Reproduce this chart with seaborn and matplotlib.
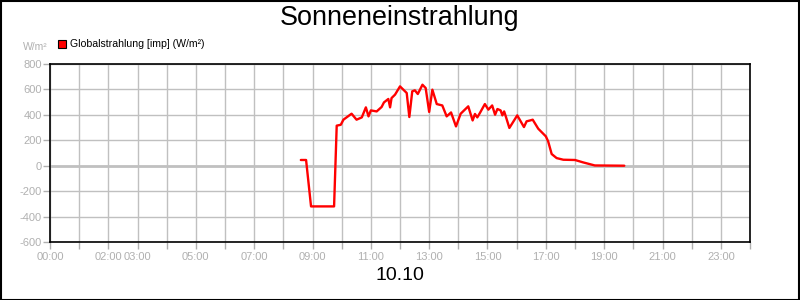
import matplotlib
matplotlib.use("Agg")
import matplotlib.pyplot as plt
import seaborn as sns
import pandas as pd
from matplotlib.patches import Rectangle

# time in hours of the day
hours = [8.60, 8.78, 8.95, 9.74, 9.83, 9.97, 10.06, 10.34, 10.51, 10.69, 10.83, 10.92,
         11.00, 11.20, 11.37, 11.45, 11.60, 11.66, 11.71, 11.83, 12.00, 12.23, 12.32,
         12.42, 12.51, 12.61, 12.77, 12.88, 13.00, 13.11, 13.26, 13.45, 13.60, 13.75,
         13.92, 14.08, 14.34, 14.49, 14.57, 14.65, 14.74, 14.91, 15.03, 15.16, 15.26,
         15.34, 15.45, 15.51, 15.57, 15.62, 15.75, 16.02, 16.25, 16.34, 16.46, 16.55,
         16.74, 17.00, 17.08, 17.20, 17.37, 17.60, 18.00, 18.28, 18.68, 19.69]
globalstrahlung = [45, 45, -320, -320, 315, 322, 362, 409, 362, 380, 459, 388,
                   435, 427, 462, 498, 525, 459, 532, 559, 624, 572, 383,
                   585, 593, 564, 637, 611, 423, 598, 485, 474, 388, 419,
                   309, 409, 467, 356, 407, 380, 415, 485, 441, 474, 401,
                   446, 435, 396, 427, 393, 297, 396, 304, 349, 356, 362,
                   291, 231, 191, 92, 60, 47, 45, 26, 2, 0]

x_tick_hours = list(range(0, 25))
x_label_hours = [0, 2, 3, 5, 7, 9, 11, 13, 15, 17, 19, 21, 23]
y_ticks = [-600, -400, -200, 0, 200, 400, 600, 800]

title = "Sonneneinstrahlung"
date_label = "10.10"
series_name = "Globalstrahlung [imp] (W/m²)"
unit = "W/m²"

sns.set_theme(style="white")
plt.rcParams['font.family'] = ['Liberation Sans', 'DejaVu Sans']

df = pd.DataFrame({"t": hours, "v": globalstrahlung})

fig = plt.figure(figsize=(8, 3), dpi=100)
ax = fig.add_axes([50/800, 1-242/300, 700/800, 178/300])

grid_c = "#c0c0c0"
for h in x_tick_hours:
    ax.axvline(h, color=grid_c, lw=1, zorder=0)
for yv in y_ticks:
    ax.axhline(yv, color=grid_c, lw=1 if yv != 0 else 2, zorder=0)

sns.lineplot(data=df, x="t", y="v", ax=ax, color="#ff0000", lw=1.7, zorder=3)

ax.set_xlim(0, 24)
ax.set_ylim(-600, 800)
ax.set_xticks(x_tick_hours)
ax.set_xticklabels([f"{h:02d}:00" if h in x_label_hours else "" for h in x_tick_hours])
ax.set_yticks(y_ticks)
ax.set_yticklabels([str(v) for v in y_ticks])
ax.tick_params(axis='both', colors="#b0b0b0", labelsize=8, length=5, width=1,
               direction='out', pad=1, bottom=True, left=True)
ax.tick_params(axis='x', pad=2)
ax.set_xlabel("")
ax.set_ylabel("")
for s in ax.spines.values():
    s.set_color("black")
    s.set_linewidth(1.2)

fig.text(0.5, 1-18/300, title, ha="center", va="center", fontsize=19.4, color="black")
fig.text(0.5, 1-275/300, date_label, ha="center", va="center", fontsize=14, color="black")
fig.text(48/800, 1-47/300, unit, ha="right", va="center", fontsize=7.5, color="#b0b0b0")

fig.patches.append(Rectangle((58/800, 1-48/300), 8/800, 8/300, transform=fig.transFigure,
                             facecolor="#ff0000", edgecolor="black", lw=0.8))
fig.text(70/800, 1-44/300, series_name, ha="left", va="center", fontsize=7.6, color="black")

fig.patches.append(Rectangle((0.5/800, 0.5/300), 798.5/800, 298.5/300, transform=fig.transFigure,
                             facecolor="none", edgecolor="black", lw=1.5))

fig.savefig("out.png", dpi=100)
